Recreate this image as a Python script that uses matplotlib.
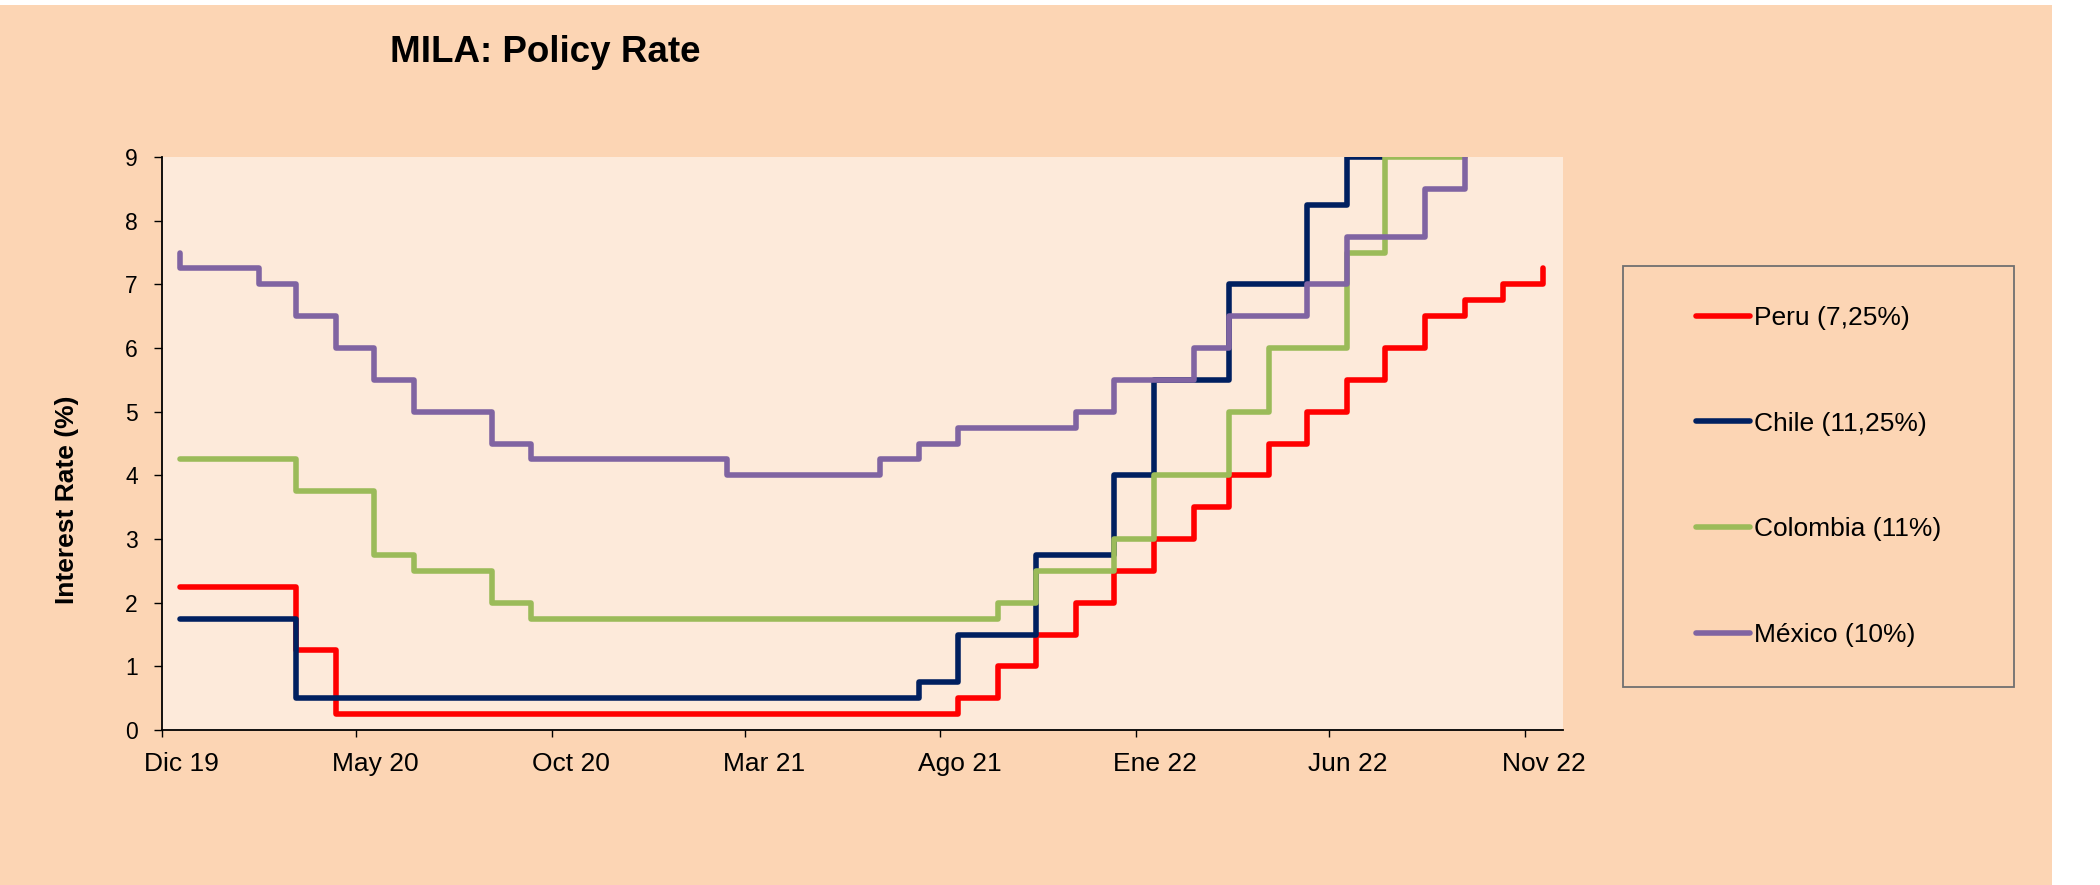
import matplotlib
matplotlib.use("Agg")
import matplotlib.pyplot as plt
import matplotlib.dates as mdates
from matplotlib.patches import Rectangle
from matplotlib.ticker import FixedLocator, FixedFormatter, NullFormatter
import pandas as pd

plt.rcParams['font.family'] = ['Liberation Sans', 'DejaVu Sans']

# ---------------- data ----------------
title = "MILA: Policy Rate"
y_label = "Interest Rate (%)"

# monthly observations Dic 19 ... Nov 22 (plotted mid-month)
month_starts = pd.date_range("2019-12-01", "2022-11-01", freq="MS")
obs_dates = month_starts + pd.Timedelta(days=14)

peru = [2.25, 2.25, 2.25, 1.25,
        0.25, 0.25, 0.25, 0.25, 0.25, 0.25, 0.25, 0.25,
        0.25, 0.25, 0.25, 0.25, 0.25, 0.25, 0.25, 0.25,
        0.5, 1.0, 1.5, 2.0, 2.5, 3.0, 3.5, 4.0,
        4.5, 5.0, 5.5, 6.0, 6.5, 6.75, 7.0, 7.25]
chile = [1.75, 1.75, 1.75,
         0.5, 0.5, 0.5, 0.5, 0.5, 0.5, 0.5, 0.5,
         0.5, 0.5, 0.5, 0.5, 0.5, 0.5, 0.5, 0.5,
         0.75, 1.5, 1.5, 2.75, 2.75, 4.0, 5.5, 5.5,
         7.0, 7.0, 8.25, 9.0, 9.75, 9.75, 10.75, 11.25, 11.25]
colombia = [4.25, 4.25, 4.25,
            3.75, 3.75, 2.75, 2.5, 2.5, 2.0,
            1.75, 1.75, 1.75, 1.75, 1.75, 1.75,
            1.75, 1.75, 1.75, 1.75, 1.75, 1.75,
            2.0, 2.5, 2.5, 3.0, 4.0, 4.0, 5.0, 6.0,
            6.0, 7.5, 9.0, 9.0, 10.0, 11.0, 11.0]
mexico = [7.25, 7.25, 7.0, 6.5, 6.0, 5.5, 5.0, 5.0, 4.5,
          4.25, 4.25, 4.25, 4.25, 4.25,
          4.0, 4.0, 4.0, 4.0,
          4.25, 4.5, 4.75, 4.75, 4.75, 5.0, 5.5, 5.5,
          6.0, 6.5, 6.5, 7.0, 7.75, 7.75, 8.5, 9.25, 9.25, 10.0]
# value in the month before the first observation (Nov 19)
prev_values = [2.25, 1.75, 4.25, 7.5]

series_values = [peru, chile, colombia, mexico]
series_names = ["Peru (7,25%)", "Chile (11,25%)", "Colombia (11%)", "México (10%)"]
series_colors = ["#FF0000", "#002060", "#9BBB59", "#8064A2"]

tick_dates = pd.to_datetime(["2019-12-01", "2020-05-01", "2020-10-01", "2021-03-01",
                             "2021-08-01", "2022-01-01", "2022-06-01", "2022-11-01"])
tick_labels = ["Dic 19", "May 20", "Oct 20", "Mar 21", "Ago 21", "Ene 22", "Jun 22", "Nov 22"]
y_ticks = list(range(0, 10))
x_start, x_end = pd.Timestamp("2019-12-01"), pd.Timestamp("2022-12-01")
y_min, y_max = 0, 9

# ---------------- figure ----------------
W, H = 2100, 885
fig = plt.figure(figsize=(W / 100, H / 100), dpi=100, facecolor="white")
fig.patches.append(Rectangle((0, 0), 2052 / W, 1 - 5 / H, transform=fig.transFigure,
                             facecolor="#FCD5B4", edgecolor="none", zorder=-10))

ax = fig.add_axes([162 / W, 1 - 730 / H, (1563 - 162) / W, (730 - 157) / H])
ax.set_facecolor("#FDEADA")

LW = 4.0
for vals, prev, name, col in zip(series_values, prev_values, series_names, series_colors):
    xs = [obs_dates[0]] + list(obs_dates)
    ys = [prev] + list(vals)
    ax.plot(xs, ys, drawstyle="steps-post", color=col, lw=LW, label=name,
            solid_joinstyle="round", solid_capstyle="round")

ax.set_xlim(x_start, x_end)
ax.set_ylim(y_min, y_max)

for s in ["top", "right"]:
    ax.spines[s].set_visible(False)
for s in ["left", "bottom"]:
    ax.spines[s].set_color("black")
    ax.spines[s].set_linewidth(1.3)

ax.set_yticks(y_ticks)
ax.tick_params(axis="y", direction="out", length=5.5, width=1, pad=12, labelsize=16.5, colors="black")

ax.xaxis.set_major_locator(FixedLocator(mdates.date2num(tick_dates)))
ax.xaxis.set_major_formatter(NullFormatter())
label_pos = mdates.date2num(tick_dates + pd.Timedelta(days=15))
ax.xaxis.set_minor_locator(FixedLocator(label_pos))
ax.xaxis.set_minor_formatter(FixedFormatter(tick_labels))
ax.tick_params(axis="x", which="major", direction="out", length=5, width=1)
ax.tick_params(axis="x", which="minor", length=0, pad=15.5, labelsize=19)

ax.set_ylabel(y_label, fontsize=19, fontweight="bold", va="center", ha="center")
ax.yaxis.set_label_coords((67 - 162) / 1401, (730 - 500) / 573)

fig.text(545 / W, 1 - 61.7 / H, title, ha="center", va="baseline",
         fontsize=26.5, fontweight="bold")

# legend frame and entries
fig.patches.append(Rectangle((1623 / W, 1 - 687 / H), (2014 - 1623) / W, (687 - 266) / H,
                             transform=fig.transFigure, facecolor="#FCD5B4",
                             edgecolor="#707070", lw=1.3, zorder=-5))
leg = ax.legend(loc="center", bbox_to_anchor=(1818.5 / W, 1 - 476.5 / H),
                bbox_transform=fig.transFigure, frameon=False, fontsize=19,
                handlelength=2.05, handletextpad=0.15, labelspacing=3.1)
for line in leg.get_lines():
    line.set_linewidth(LW)
    line.set_solid_capstyle("round")

fig.savefig("out.png", dpi=100, facecolor=fig.get_facecolor())
